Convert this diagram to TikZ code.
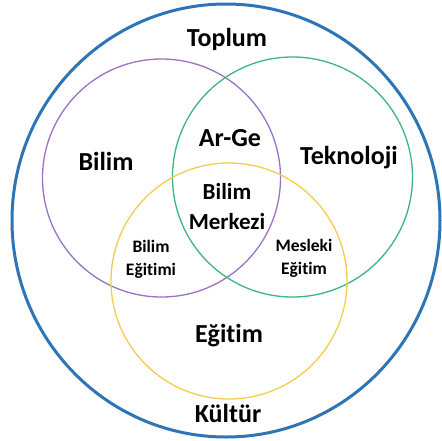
\documentclass[tikz,border=0pt]{standalone}
\usepackage{fontspec}
\setmainfont[Ligatures=NoCommon]{Carlito}
\definecolor{cblue}{HTML}{2E75B6}
\definecolor{cpurple}{HTML}{9B72C4}
\definecolor{cgreen}{HTML}{3DB67C}
\definecolor{cyellow}{HTML}{F4CC4C}
\begin{document}
\begin{tikzpicture}[x=1pt,y=-1pt,
  ring/.style={line width=1.3pt},
  big/.style={font=\bfseries\fontsize{26}{30}\selectfont, inner sep=0pt},
  mid/.style={font=\bfseries\fontsize{23}{30}\selectfont, inner sep=0pt, align=center},
  small/.style={font=\bfseries\fontsize{17.5}{23}\selectfont, inner sep=0pt, align=center}]
\useasboundingbox (0,0) rectangle (442,440);
\draw[cblue, line width=3pt] (226,220.5) ellipse [x radius=214, y radius=216.5];
\draw[cpurple, ring] (161.5,178) circle [radius=119];
\draw[cgreen, ring] (292.5,177) circle [radius=120];
\draw[cyellow, ring] (229,281) circle [radius=118];
\node[big] (toplum) at (227,39) {Toplum};
\node[big] (bilim) at (106,161) {Bilim};
\node[big] (tekno) at (349,158) {Teknoloji};
\node[big] (arge) at (230,138) {Ar-Ge};
\node[mid] (merkez) at (227,207) {Bilim\\Merkezi};
\node[small] (bilegit) at (151,259) {Bilim\\Eğitimi};
\node[small] (meslek) at (304,258) {Mesleki\\Eğitim};
\node[big] (egitim) at (229,336) {Eğitim};
\node[big] (kultur) at (228,413) {Kültür};
\end{tikzpicture}
\end{document}
